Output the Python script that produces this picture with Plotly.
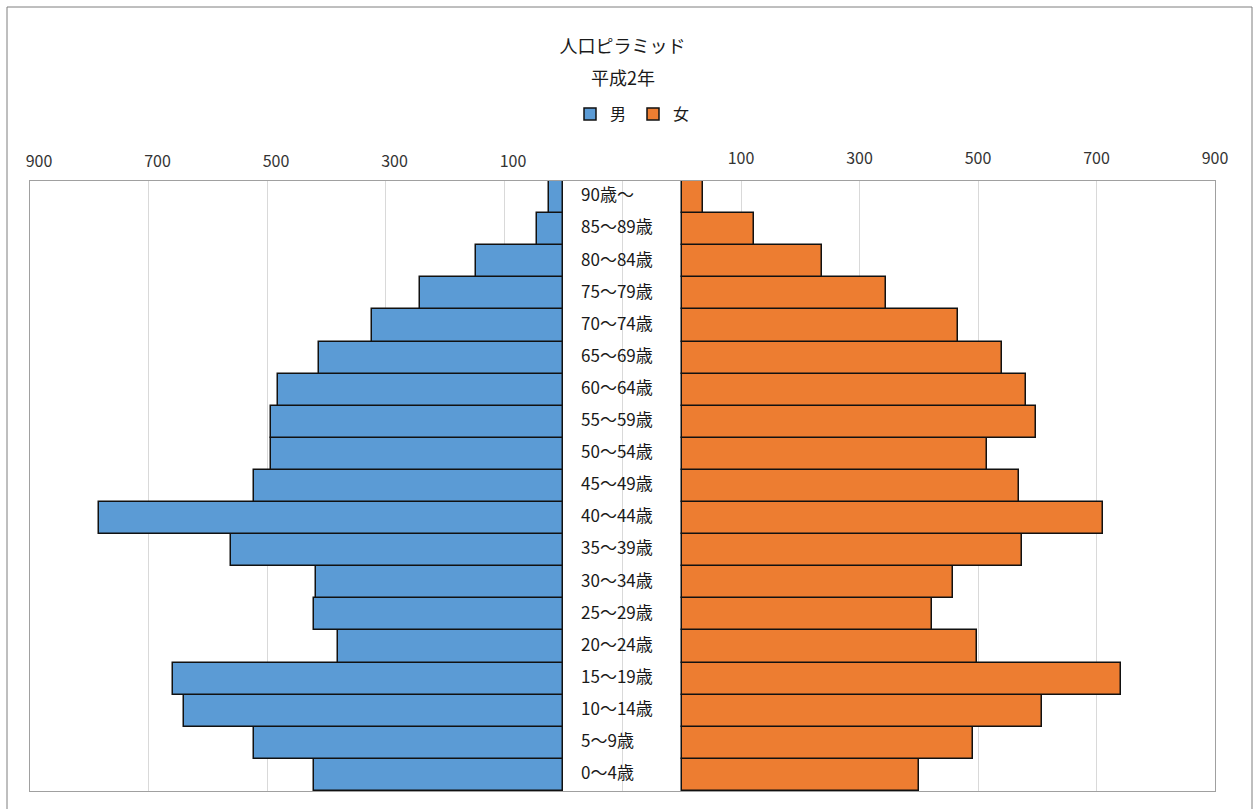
import plotly.graph_objects as go

# Age groups from youngest (bottom) to oldest (top)
ages = ["0～4歳", "5～9歳", "10～14歳", "15～19歳", "20～24歳", "25～29歳",
        "30～34歳", "35～39歳", "40～44歳", "45～49歳", "50～54歳", "55～59歳",
        "60～64歳", "65～69歳", "70～74歳", "75～79歳", "80～84歳", "85～89歳",
        "90歳～"]
male = [421, 522, 640, 658, 381, 420, 418, 560, 784, 522,
        494, 493, 481, 413, 322, 242, 147, 44, 24]
female = [401, 492, 608, 741, 498, 422, 457, 574, 711, 569,
          516, 598, 581, 540, 466, 344, 237, 122, 36]
tick_labels = [100, 300, 500, 700, 900]

GAP = 100          # blank band in the middle that holds the age labels
AXIS_MAX = 1000
FONT = "Noto Sans CJK JP"
W, H = 1256, 809
L, R, T, B = 30, 41, 181, 18
PW, PH = W - L - R, H - T - B


def px_y(y):
    """page pixel row -> paper y"""
    return (H - B - y) / PH


def px_x(x):
    return (x - L) / PW


fig = go.Figure()

fig.add_trace(go.Bar(
    name="男", y=ages, x=[-v for v in male], base=-GAP, orientation="h",
    marker=dict(color="#5B9BD5", line=dict(color="#111111", width=1.5)),
))
fig.add_trace(go.Bar(
    name="女", y=ages, x=female, base=GAP, orientation="h",
    marker=dict(color="#ED7D31", line=dict(color="#111111", width=1.5)),
))
# age-group labels in the centre band
fig.add_trace(go.Scatter(
    x=[-70] * len(ages), y=ages, mode="text", text=ages,
    textposition="middle right", xaxis="x2", yaxis="y",
    textfont=dict(family=FONT, size=17, color="#1a1a1a"),
    showlegend=False, hoverinfo="skip",
))

grid_vals = list(range(-AXIS_MAX, AXIS_MAX + 1, 200))
right_vals = [v + GAP for v in tick_labels]
left_vals = [-(v + GAP) for v in tick_labels]

fig.update_layout(
    width=W, height=H,
    margin=dict(l=L, r=R, t=T, b=B),
    paper_bgcolor="white", plot_bgcolor="white",
    barmode="overlay", bargap=0,
    font=dict(family=FONT, color="#333333"),
    title=dict(text="人口ピラミッド", x=0.5, xref="paper", xanchor="center",
               y=1 - 47 / H, yanchor="middle",
               font=dict(family=FONT, size=18, color="#1a1a1a")),
    legend=dict(orientation="h", x=px_x(633), xanchor="center",
                y=px_y(114), yanchor="middle", itemwidth=30,
                entrywidth=18, entrywidthmode="pixels",
                font=dict(family=FONT, size=16, color="#1a1a1a"),
                bgcolor="rgba(0,0,0,0)"),
    xaxis=dict(
        range=[-AXIS_MAX, AXIS_MAX], side="top",
        tickvals=grid_vals,
        ticktext=[str(v - GAP) if v in right_vals else "" for v in grid_vals],
        showgrid=True, gridcolor="#d9d9d9", gridwidth=1, zeroline=False,
        showline=True, linecolor="#a0a0a0", linewidth=1, mirror=True,
        ticks="", ticklabelstandoff=10,
        tickfont=dict(family=FONT, size=16, color="#333333"),
    ),
    xaxis2=dict(
        range=[-AXIS_MAX, AXIS_MAX], side="top", overlaying="x",
        tickvals=left_vals, ticktext=[str(v) for v in tick_labels],
        showgrid=False, zeroline=False, showline=False, ticks="",
        ticklabelstandoff=10, ticklabelshift=9,
        tickfont=dict(family=FONT, size=16, color="#333333"),
    ),
    yaxis=dict(
        categoryorder="array", categoryarray=ages,
        range=[-0.5, len(ages) - 0.5],
        showgrid=False, zeroline=False, showticklabels=False, ticks="",
        showline=True, linecolor="#a0a0a0", linewidth=1, mirror=True,
    ),
    annotations=[dict(
        text="平成2年", xref="paper", yref="paper", x=0.5, y=px_y(77),
        xanchor="center", yanchor="middle", showarrow=False,
        font=dict(family=FONT, size=18, color="#1a1a1a"),
    )],
    shapes=[dict(
        type="rect", xref="paper", yref="paper",
        x0=px_x(7), x1=px_x(1252), y0=px_y(830), y1=px_y(7),
        line=dict(color="#7f7f7f", width=1), fillcolor="rgba(0,0,0,0)",
        layer="below",
    )],
)

fig.write_html("out.html")
